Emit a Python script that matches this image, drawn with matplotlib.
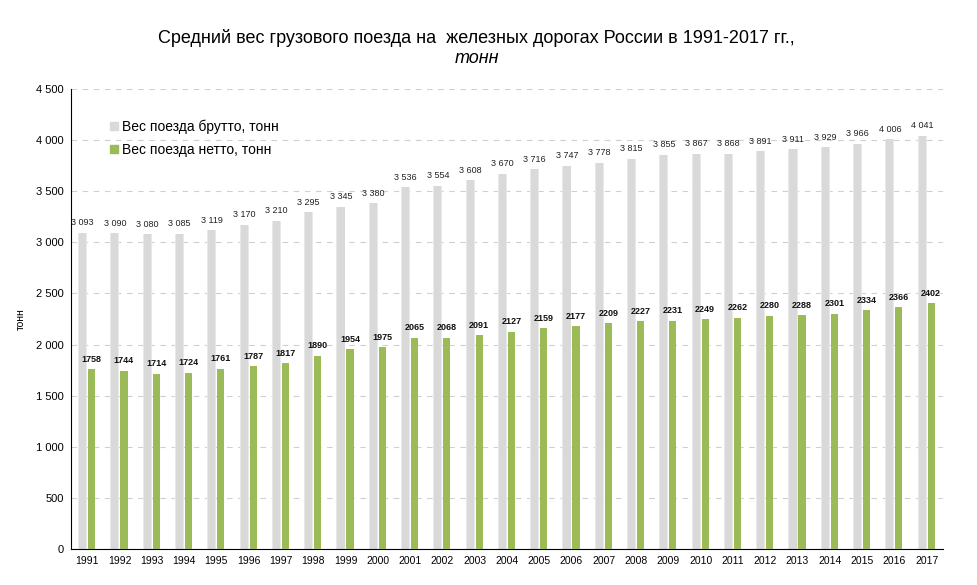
import matplotlib
matplotlib.use("Agg")
import matplotlib.pyplot as plt
import matplotlib.lines as mlines
import numpy as np

plt.rcParams["font.family"] = ["Liberation Sans", "DejaVu Sans"]

years = [str(y) for y in range(1991, 2018)]
brutto = [3093, 3090, 3080, 3085, 3119, 3170, 3210, 3295, 3345, 3380,
          3536, 3554, 3608, 3670, 3716, 3747, 3778, 3815, 3855, 3867,
          3868, 3891, 3911, 3929, 3966, 4006, 4041]
netto = [1758, 1744, 1714, 1724, 1761, 1787, 1817, 1890, 1954, 1975,
         2065, 2068, 2091, 2127, 2159, 2177, 2209, 2227, 2231, 2249,
         2262, 2280, 2288, 2301, 2334, 2366, 2402]

gray = "#d9d9d9"
green = "#9bbb59"


def fmt_space(v):
    return f"{int(v):,}".replace(",", " ")


fig = plt.figure(figsize=(9.77, 5.85), dpi=100)
ax = fig.add_axes([0.0727, 0.0615, 0.8923, 0.7865])

x = np.arange(len(years))
off = 0.14
w = 0.22

# soft edge around the gray bars, then the bars
ax.bar(x - off, brutto, width=w + 0.06, color="#e9e9e9", zorder=2)
ax.bar(x - off, brutto, width=w, color=gray, zorder=2)
ax.bar(x + off, netto, width=w, color=green, zorder=3)

for xi, v in zip(x, brutto):
    ax.annotate(fmt_space(v), (xi - off, v), xytext=(0, 4), textcoords="offset points",
                ha="center", va="bottom", fontsize=6.5, color="#222222")
for xi, v in zip(x, netto):
    ax.annotate(str(v), (xi + off, v), xytext=(0, 4), textcoords="offset points",
                ha="center", va="bottom", fontsize=6.5, fontweight="bold", color="#111111")

ax.set_xlim(-0.5, 26.5)
ax.set_ylim(0, 4500)
ax.set_yticks(np.arange(0, 4501, 500))
ax.set_yticklabels([fmt_space(v) for v in np.arange(0, 4501, 500)], fontsize=8)
ax.set_xticks(x)
ax.set_xticklabels(years, fontsize=7.5)
ax.tick_params(length=0, pad=5)

ax.grid(axis="y", linestyle=(0, (5, 5)), color="#d0d0d0", linewidth=0.8, zorder=0)
ax.set_axisbelow(True)
for s in ["top", "right"]:
    ax.spines[s].set_visible(False)
ax.spines["left"].set_color("black")
ax.spines["bottom"].set_color("black")

ax.set_ylabel("тонн", fontsize=7.5)
ax.yaxis.set_label_coords(-0.052, 0.5)

h1 = mlines.Line2D([], [], color=gray, marker="s", linestyle="None", markersize=6,
                   label="Вес поезда брутто, тонн")
h2 = mlines.Line2D([], [], color=green, marker="s", linestyle="None", markersize=6,
                   label="Вес поезда нетто, тонн")
ax.legend(handles=[h1, h2], loc="upper left", bbox_to_anchor=(0.03, 0.96),
          frameon=False, fontsize=10, handlelength=0.6, handletextpad=0.3,
          labelspacing=0.6)

fig.text(0.488, 0.935, "Средний вес грузового поезда на  железных дорогах России в 1991-2017 гг.,",
         ha="center", va="center", fontsize=13)
fig.text(0.488, 0.9, "тонн", ha="center", va="center", fontsize=13, style="italic")

fig.savefig("out.png", dpi=100)
